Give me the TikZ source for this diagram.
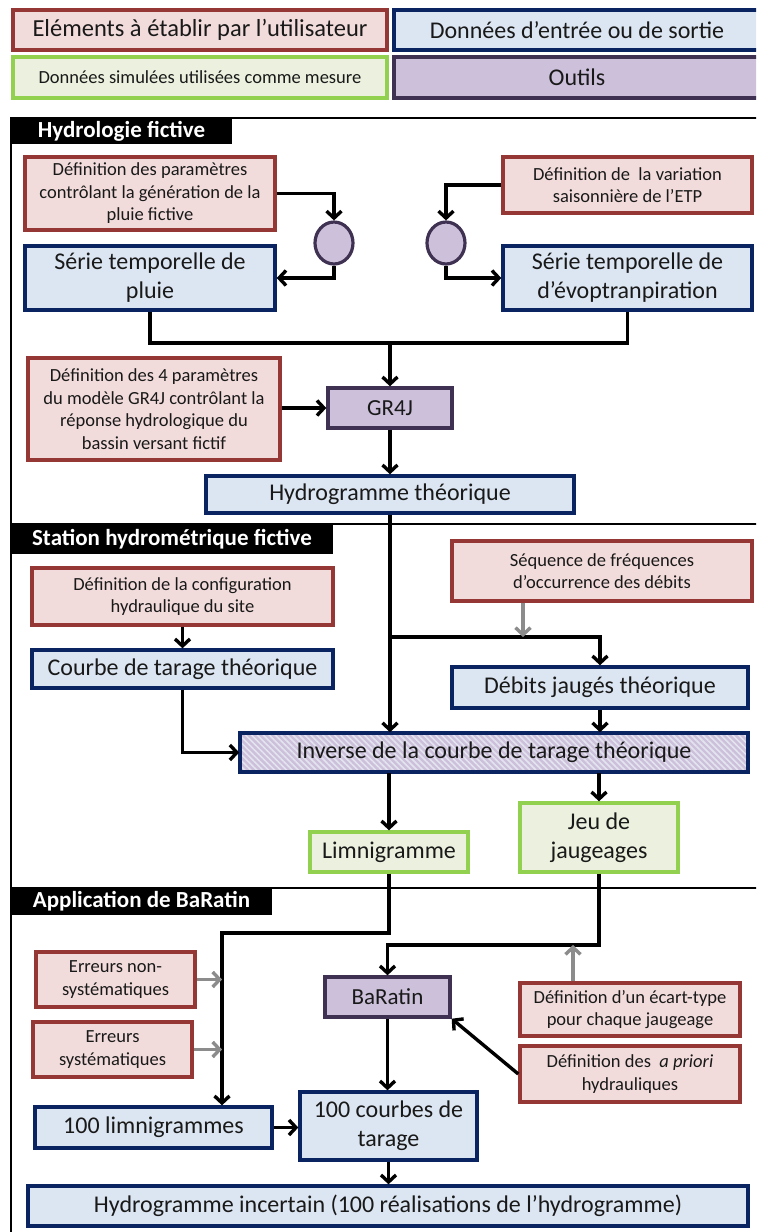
\documentclass[tikz,border=0pt]{standalone}
\usepackage{fontspec}
\setmainfont{Carlito}
\usetikzlibrary{arrows.meta,patterns.meta}

\definecolor{pinkF}{HTML}{F2DCDB}
\definecolor{redD}{HTML}{953735}
\definecolor{blueF}{HTML}{DCE6F2}
\definecolor{navyD}{HTML}{0A2361}
\definecolor{greenF}{HTML}{EBF1DE}
\definecolor{greenD}{HTML}{92D050}
\definecolor{purpF}{HTML}{CCC0DA}
\definecolor{purpD}{HTML}{3F3151}
\definecolor{arrGray}{HTML}{8C8C8C}
\definecolor{stripeC}{HTML}{E4E4F0}

\newcommand\fsBig{\fontsize{24}{29}\selectfont}
\newcommand\fsSmall{\fontsize{18.5}{22.5}\selectfont}
\newcommand\fsTool{\fontsize{23}{27}\selectfont}

\tikzset{
  box/.style={line width=3.4pt, align=center, inner sep=0pt, text=black!90},
  userbox/.style={box, fill=pinkF, draw=redD, font=\fsSmall},
  databox/.style={box, fill=blueF, draw=navyD, font=\fsBig},
  simbox/.style={box, fill=greenF, draw=greenD, font=\fsBig},
  toolbox/.style={box, fill=purpF, draw=purpD, font=\fsTool},
  dot/.style={ellipse, fill=purpF, draw=purpD, line width=3.2pt, minimum width=38pt, minimum height=42pt, inner sep=0pt},
  hdr/.style={fill=black, text=white, inner sep=0pt, font=\bfseries\fontsize{23}{27}\selectfont},
  frame/.style={line width=2.4pt, draw=black},
  flow/.style={line width=3.4pt, draw=black},
  arr/.style={flow, -{Straight Barb[length=7pt,width=15pt]}},
  garr/.style={arr, draw=arrGray},
  sz/.style 2 args={minimum width=#1pt, minimum height=#2pt}
}
\usetikzlibrary{shapes.geometric}

\begin{document}
\begin{tikzpicture}[x=1pt,y=-1pt]
\useasboundingbox (0,0) rectangle (756,1232);
\clip (0,0) rectangle (756,1232);
\fill[white] (0,0) rectangle (756,1232);

% legend
\node[userbox, font=\fontsize{24.5}{29}\selectfont, sz={374}{40}] (l1) at (200,30) {Eléments à établir par l’utilisateur};
\node[databox, sz={366}{40}] (l2) at (577,30) {Données d’entrée ou de sortie};
\node[simbox, font=\fsSmall, sz={374}{41}] (l3) at (200,77.5) {Données simulées utilisées comme mesure};
\node[toolbox, font=\fsBig, sz={366}{41}] (l4) at (577,77.5) {Outils};

% frames
\draw[frame] (760,118) -- (11,118) -- (11,1240);
\draw[frame] (11,524) -- (760,524);
\draw[frame] (11,888) -- (760,888);

% headers
\node[hdr, sz={221}{26}] (h1) at (121.5,131) {Hydrologie fictive};
\node[hdr, sz={322}{30}] (h2) at (172,539) {Station hydrométrique fictive};
\node[hdr, sz={261}{27}] (h3) at (141.5,901.5) {Application de BaRatin};

% section 1
\node[userbox, sz={250}{73}] (p1) at (150,193.5) {Définition des paramètres\\contrôlant la génération de la\\pluie fictive};
\node[userbox, sz={249}{56}] (p2) at (627.5,185) {Définition de\ \ la variation\\saisonnière de l’ETP};
\node[dot] (c1) at (334,243) {};
\node[dot] (c2) at (446,243) {};
\node[databox, sz={250}{64}] (b1) at (150,278) {Série temporelle de\\pluie};
\node[databox, sz={249}{64}] (b2) at (627.5,278) {Série temporelle de\\d’évoptranpiration};
\node[userbox, sz={252}{102}] (p3) at (154,409) {Définition des 4 paramètres\\du modèle GR4J contrôlant la\\réponse hydrologique du\\bassin versant fictif};
\node[toolbox, sz={124}{40}] (gr) at (390,408) {GR4J};
\node[databox, sz={368}{37}] (hyd) at (390,494.5) {Hydrogramme théorique};

% section 2
\node[userbox, sz={300}{60}] (seq) at (602,571) {Séquence de fréquences\\d’occurrence des débits};
\node[userbox, sz={301}{57}] (conf) at (182.5,596.5) {Définition de la configuration\\hydraulique du site};
\node[databox, sz={301}{38}] (crb) at (182.5,669) {Courbe de tarage théorique};
\node[databox, sz={296}{41}] (deb) at (600,687.5) {Débits jaugés théorique};
\node[box, draw=navyD, sz={508}{39}, font=\fsBig, preaction={fill=purpF}, pattern={Lines[angle=-45,distance=4.2pt,line width=1.6pt]}, pattern color=stripeC] (inv) at (494,752.5) {Inverse de la courbe de tarage théorique};
\node[simbox, sz={158}{40}] (lim) at (389,852) {Limnigramme};
\node[simbox, sz={158}{69}] (jeu) at (599,837.5) {Jeu de\\jaugeages};

% section 3
\node[userbox, sz={159}{55}] (e1) at (115.5,979.5) {Erreurs non-\\systématiques};
\node[userbox, sz={159}{55}] (e2) at (112.5,1049.5) {Erreurs\\systématiques};
\node[toolbox, sz={125}{40}] (bar) at (387.5,997) {BaRatin};
\node[userbox, sz={220}{53}] (ect) at (630,1009.5) {Définition d’un écart-type\\pour chaque jaugeage};
\node[userbox, sz={220}{56}] (apr) at (630,1074) {Définition des\ \ \textit{a priori}\\hydrauliques};
\node[databox, sz={237}{41}] (l100) at (153.5,1127.5) {100 limnigrammes};
\node[databox, sz={177}{68}] (c100) at (388.5,1126) {100 courbes de\\tarage};
\node[databox, sz={720}{40}] (hinc) at (388,1206) {Hydrogramme incertain (100 réalisations de l’hydrogramme)};

% junction coordinates
\coordinate (m1) at (390,343);
\coordinate (m2) at (390,637);
\coordinate (g1) at (523,637);
\coordinate (m3) at (222,933);
\coordinate (m4) at (390,945);
\coordinate (g2) at (573,945);

% connectors section 1
\draw[arr] (p1.east) -| (c1.north);
\draw[arr] (c1.south) |- (b1.east);
\draw[arr] (p2.west) -| (c2.north);
\draw[arr] (c2.south) |- (b2.west);
\draw[flow] (b1.south) |- (m1) -| (b2.south);
\draw[arr] (m1) -- (gr.north);
\draw[arr] (p3.east |- gr.west) -- (gr.west);
\draw[arr] (gr.south) -- (hyd.north);

% connectors section 2
\draw[arr] (hyd.south) -- (hyd.south |- inv.north);
\draw[arr] (m2) -| (deb.north);
\draw[garr] (g1 |- seq.south) -- (g1);
\draw[arr] (conf.south) -- (crb.north);
\draw[arr] (crb.south) |- (inv.west);
\draw[arr] (deb.south) -- (deb.south |- inv.north);
\draw[arr] (lim.north |- inv.south) -- (lim.north);
\draw[arr] (jeu.north |- inv.south) -- (jeu.north);

% connectors section 3
\draw[arr] (lim.south) |- (m3) -- (m3 |- l100.north);
\draw[arr] (jeu.south) |- (m4 -| bar.north) -- (bar.north);
\draw[garr] (e1.east) -- (m3 |- e1.east);
\draw[garr] (e2.east) -- (m3 |- e2.east);
\draw[garr] (g2 |- ect.north) -- (g2);
\draw[arr] (apr.west) -- (bar.south east);
\draw[arr] (bar.south) -- (bar.south |- c100.north);
\draw[arr] (l100.east) -- (l100.east -| c100.west);
\draw[arr] (c100.south) -- (c100.south |- hinc.north);
\end{tikzpicture}
\end{document}
